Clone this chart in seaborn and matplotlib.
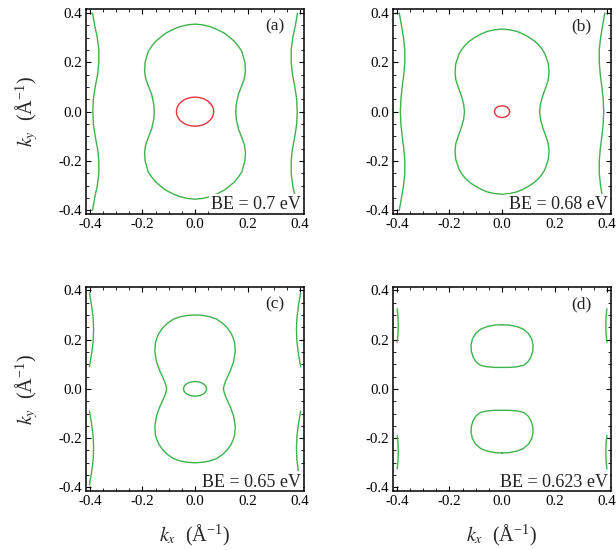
import numpy as np
import pandas as pd
import matplotlib
matplotlib.use("Agg")
import matplotlib.pyplot as plt
from matplotlib.ticker import MultipleLocator, FormatStrFormatter
import seaborn as sns

# ---- data (first quadrant / right half, mirrored) ----
# (a) BE = 0.7 eV
main_a_kx = [0.155, 0.157, 0.165, 0.178, 0.188, 0.192, 0.190, 0.178, 0.165, 0.150, 0.130,
             0.112, 0.085, 0.060, 0.030, 0.0]
main_a_ky = [0.0, 0.030, 0.070, 0.105, 0.135, 0.165, 0.200, 0.245, 0.265, 0.285, 0.303,
             0.318, 0.333, 0.344, 0.352, 0.355]
inner_a_kx = [0.071, 0.0695, 0.065, 0.057, 0.046, 0.034, 0.018, 0.0]
inner_a_ky = [0.0, 0.012, 0.024, 0.035, 0.045, 0.052, 0.057, 0.059]
outer_a_kx = [0.390, 0.382, 0.372, 0.366, 0.366, 0.371, 0.380, 0.387, 0.389]
outer_a_ky = [0.40, 0.35, 0.30, 0.25, 0.20, 0.15, 0.10, 0.05, 0.0]

# (b) BE = 0.68 eV
main_b_kx = [0.143, 0.146, 0.155, 0.167, 0.176, 0.179, 0.176, 0.163, 0.153, 0.140, 0.124,
             0.105, 0.082, 0.058, 0.030, 0.0]
main_b_ky = [0.0, 0.030, 0.065, 0.100, 0.130, 0.160, 0.195, 0.235, 0.253, 0.270, 0.286,
             0.300, 0.314, 0.325, 0.332, 0.335]
inner_b_kx = [0.029, 0.0264, 0.0205, 0.014, 0.0]
inner_b_ky = [0.0, 0.010, 0.017, 0.021, 0.024]
outer_b_kx = [0.391, 0.383, 0.375, 0.370, 0.370, 0.374, 0.380, 0.385, 0.387]
outer_b_ky = [0.40, 0.35, 0.30, 0.25, 0.20, 0.15, 0.10, 0.05, 0.0]

# (c) BE = 0.65 eV
main_c_kx = [0.108, 0.111, 0.116, 0.125, 0.135, 0.147, 0.153, 0.151, 0.145, 0.137, 0.123,
             0.105, 0.082, 0.055, 0.028, 0.0]
main_c_ky = [0.0, 0.015, 0.030, 0.052, 0.075, 0.111, 0.152, 0.186, 0.207, 0.226, 0.247,
             0.266, 0.283, 0.293, 0.298, 0.300]
inner_c_kx = [0.044, 0.042, 0.037, 0.031, 0.019, 0.0]
inner_c_ky = [0.0, 0.009, 0.016, 0.021, 0.027, 0.030]
arc_c_kx = [0.402, 0.394, 0.388, 0.386, 0.388, 0.394, 0.402]
arc_c_ky = [0.39, 0.34, 0.29, 0.24, 0.19, 0.14, 0.09]

# (d) BE = 0.623 eV  (upper pocket, right half, top -> bottom)
pocket_d_kx = [0.0, 0.026, 0.055, 0.080, 0.100, 0.113, 0.118, 0.117, 0.110, 0.099,
               0.083, 0.060, 0.030, 0.0]
pocket_d_ky = [0.260, 0.259, 0.253, 0.243, 0.225, 0.202, 0.177, 0.153, 0.129, 0.110,
               0.096, 0.090, 0.087, 0.087]
arc_d_kx = [0.399, 0.396, 0.395, 0.396, 0.399]
arc_d_ky = [0.325, 0.29, 0.257, 0.223, 0.189]

panel_tags = ["(a)", "(b)", "(c)", "(d)"]
be_labels = ["BE = 0.7 eV", "BE = 0.68 eV", "BE = 0.65 eV", "BE = 0.623 eV"]
tick_vals = [-0.4, -0.2, 0.0, 0.2, 0.4]

GREEN = "#3cb44a"
RED = "#e8343b"


def loop_from_quarter(kx, ky):
    # mirror a first-quadrant arc into a closed curve
    x = list(kx) + [-v for v in reversed(kx)] + [-v for v in kx] + list(reversed(kx))
    y = list(ky) + list(reversed(ky)) + [-v for v in ky] + [-v for v in reversed(ky)]
    return x, y


def loop_from_half(kx, ky):
    x = list(kx) + [-v for v in reversed(kx)]
    y = list(ky) + list(reversed(ky))
    return x, y


def full_line(kx, ky):
    x = list(kx) + list(reversed(kx[:-1]))
    y = list(ky) + [-v for v in reversed(ky[:-1])]
    return x, y


def draw(ax, x, y, color):
    df = pd.DataFrame({"kx": x, "ky": y})
    sns.lineplot(data=df, x="kx", y="ky", sort=False, estimator=None,
                 color=color, linewidth=1.0, ax=ax)


sns.set_theme(style="ticks")
plt.rcParams["font.family"] = ["Liberation Serif", "DejaVu Serif"]
plt.rcParams["mathtext.fontset"] = "stix"

fig = plt.figure(figsize=(6.16, 5.5), dpi=100)
w, h = 0.354, 0.372
rects = [(0.1396, 0.611, w, h), (0.638, 0.611, w, h),
         (0.1396, 0.107, w, h), (0.638, 0.107, w, h)]
axes = [fig.add_axes(r) for r in rects]

# panel (a)
ax = axes[0]
draw(ax, *loop_from_quarter(main_a_kx, main_a_ky), GREEN)
draw(ax, *loop_from_quarter(inner_a_kx, inner_a_ky), RED)
ox, oy = full_line(outer_a_kx, outer_a_ky)
draw(ax, ox, oy, GREEN)
draw(ax, [-v for v in ox], oy, GREEN)

# panel (b)
ax = axes[1]
draw(ax, *loop_from_quarter(main_b_kx, main_b_ky), GREEN)
draw(ax, *loop_from_quarter(inner_b_kx, inner_b_ky), RED)
ox, oy = full_line(outer_b_kx, outer_b_ky)
draw(ax, ox, oy, GREEN)
draw(ax, [-v for v in ox], oy, GREEN)

# panel (c)
ax = axes[2]
draw(ax, *loop_from_quarter(main_c_kx, main_c_ky), GREEN)
draw(ax, *loop_from_quarter(inner_c_kx, inner_c_ky), GREEN)
for sx in (1, -1):
    for sy in (1, -1):
        draw(ax, [sx * v for v in arc_c_kx], [sy * v for v in arc_c_ky], GREEN)

# panel (d)
ax = axes[3]
px, py = loop_from_half(pocket_d_kx, pocket_d_ky)
draw(ax, px, py, GREEN)
draw(ax, px, [-v for v in py], GREEN)
for sx in (1, -1):
    for sy in (1, -1):
        draw(ax, [sx * v for v in arc_d_kx], [sy * v for v in arc_d_ky], GREEN)

for i, ax in enumerate(axes):
    ax.set_xlim(-0.415, 0.415)
    ax.set_ylim(-0.415, 0.415)
    ax.set_xticks(tick_vals)
    ax.set_yticks(tick_vals)
    ax.xaxis.set_minor_locator(MultipleLocator(0.05))
    ax.yaxis.set_minor_locator(MultipleLocator(0.05))
    ax.xaxis.set_major_formatter(FormatStrFormatter("%.1f"))
    ax.yaxis.set_major_formatter(FormatStrFormatter("%.1f"))
    ax.tick_params(which="both", direction="in", top=True, right=True,
                   colors="black", labelsize=10.8, pad=3)
    ax.tick_params(which="major", length=3.5, width=0.8)
    ax.tick_params(which="minor", length=2.0, width=0.6)
    for sp in ax.spines.values():
        sp.set_linewidth(1.1)
        sp.set_color("black")
        sp.set_zorder(3)
    ax.set_xlabel("")
    ax.set_ylabel("")
    ax.text(0.91, 0.915, panel_tags[i], transform=ax.transAxes,
            ha="right", va="center", fontsize=12.5, color="#222222")
    ax.text(0.985, 0.022, be_labels[i], transform=ax.transAxes,
            ha="right", va="baseline", fontsize=13, color="#222222", zorder=2.3,
            bbox=dict(facecolor="white", edgecolor="none", pad=1.5))

for ax in (axes[0], axes[2]):
    ax.set_ylabel(r"$k_y$  (Å$^{\mathregular{-1}}$)", fontsize=14.5)
    ax.yaxis.label.set_va("center")
    ax.yaxis.set_label_coords(-0.27, 0.5)
for ax in (axes[2], axes[3]):
    ax.set_xlabel(r"$k_x$  (Å$^{\mathregular{-1}}$)", fontsize=14.5)
    ax.xaxis.label.set_va("center")
    ax.xaxis.set_label_coords(0.5, -0.215)

fig.savefig("out.png", dpi=100)
